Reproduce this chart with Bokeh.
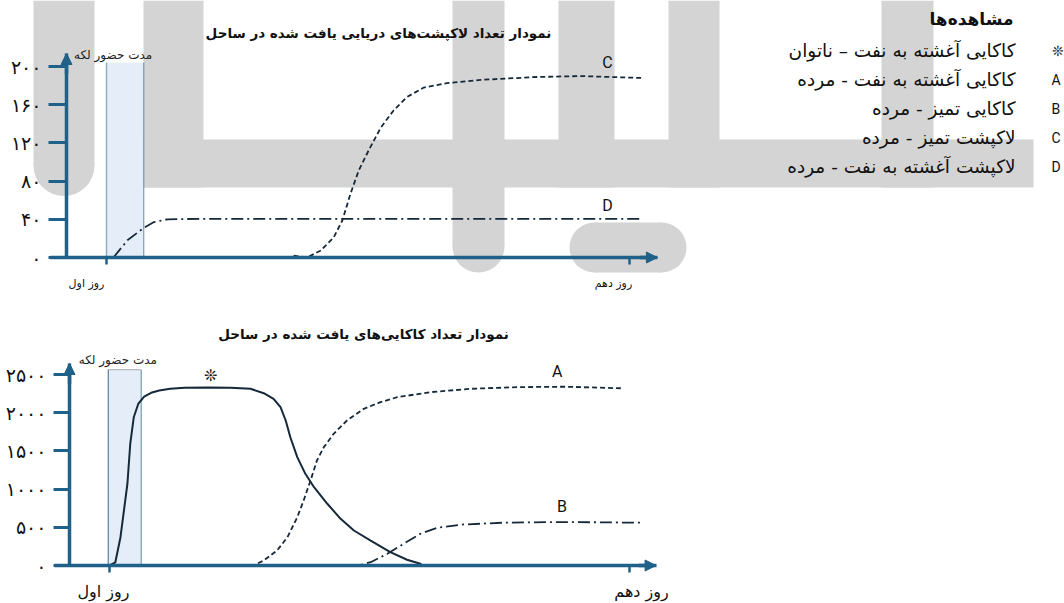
from bokeh.plotting import figure
from bokeh.models import Range1d, LinearAxis, FixedTicker, Arrow, NormalHead
from bokeh.core.properties import value
from bokeh.embed import file_html
from bokeh.resources import INLINE

# ---------------- data ----------------
turtle_title = "نمودار تعداد لاکپشت‌های دریایی یافت شده در ساحل"
gull_title = "نمودار تعداد کاکایی‌های یافت شده در ساحل"
slick_label = "مدت حضور لکه"

day_ticks = [1, 10]
day_labels = ["روز اول", "روز دهم"]

turtle_ticks = [0, 40, 80, 120, 160, 200]
turtle_tick_labels = ["۰", "۴۰", "۸۰", "۱۲۰", "۱۶۰", "۲۰۰"]
gull_ticks = [0, 500, 1000, 1500, 2000, 2500]
gull_tick_labels = ["۰", "۵۰۰", "۱۰۰۰", "۱۵۰۰", "۲۰۰۰", "۲۵۰۰"]

turtle_slick_days = [1.0, 1.64]
turtle_slick_top = 204
gull_slick_days = [0.98, 1.55]
gull_slick_top = 2565

# turtles
C_day = [4.22, 4.45, 4.68, 4.91, 5.06, 5.20, 5.34, 5.51, 5.72, 5.94, 6.17, 6.46, 6.86,
         7.44, 8.4, 9.16, 10.2]
C_count = [2, 0, 7, 21, 39, 67, 91, 112, 136, 154, 168, 178, 182.5, 186, 189, 190, 188]
D_day = [1.12, 1.36, 1.64, 1.81, 2.05, 2.6, 4.0, 6.0, 8.0, 10.2]
D_count = [0, 18, 31, 37, 40, 40.5, 40.5, 40.5, 40.5, 40.5]

# gulls
S_day = [1.0, 1.1, 1.19, 1.31, 1.36, 1.42, 1.5, 1.6, 1.72, 1.86, 2.05, 2.3, 2.7, 3.09, 3.44,
         3.67, 3.84, 3.96, 4.05, 4.13, 4.25, 4.39, 4.54, 4.77, 5.0, 5.23, 5.52, 5.86, 6.15,
         6.38, 6.42]
S_count = [0, 40, 370, 1070, 1600, 1940, 2120, 2210, 2260, 2290, 2312, 2325, 2330, 2326,
           2313, 2255, 2182, 2072, 1898, 1679, 1418, 1200, 1025, 808, 611, 458, 327, 174,
           75, 22, 0]
A_day = [3.30, 3.50, 3.67, 3.90, 4.08, 4.25, 4.36, 4.48, 4.59, 4.71, 4.88, 5.11, 5.40,
         5.69, 5.98, 6.56, 7.25, 8.1, 8.9, 9.85]
A_count = [0, 5, 65, 196, 370, 632, 851, 1113, 1374, 1549, 1724, 1898, 2051, 2138, 2203,
           2269, 2313, 2335, 2340, 2320]
B_day = [5.08, 5.31, 5.52, 5.81, 6.09, 6.38, 6.67, 7.13, 7.8, 8.6, 9.4, 10.2]
B_count = [0, 0, 43, 153, 284, 415, 493, 537, 560, 568, 566, 560]

legend_title = "مشاهده‌ها"
legend_keys = ["❊", "A", "B", "C", "D"]
legend_texts = [
    "کاکایی آغشته به نفت – ناتوان",
    "کاکایی آغشته به نفت - مرده",
    "کاکایی تمیز - مرده",
    "لاکپشت تمیز - مرده",
    "لاکپشت آغشته به نفت - مرده",
]

# ---------------- style / layout ----------------
W, H = 1064, 603
OFF = 0  # canvas coords == reference pixel coords
AX = "#1f6189"
INK = "#15293a"
GRAY = "#d4d4d4"
BAND = "#e5eef8"
FONT = "DejaVu Sans"
FA = value(FONT)


def lin_range(v0, p0, v1, p1, lo, hi):
    s = (v1 - v0) / (p1 - p0)
    return Range1d(v0 + (lo - p0) * s, v0 + (hi - p0) * s)


p = figure(width=W, height=H, x_range=Range1d(OFF, OFF + W), y_range=Range1d(OFF + H, OFF),
           toolbar_location=None, output_backend="svg", x_axis_location=None,
           y_axis_location=None, min_border=0, outline_line_color=None)
p.grid.visible = False

# chart scales (data -> pixel), built from tick anchor positions
p.extra_x_ranges = {
    "tx": lin_range(1, 106, 10, 629, OFF, OFF + W),
    "gx": lin_range(1, 109, 10, 629, OFF, OFF + W),
}
p.extra_y_ranges = {
    "ty": lin_range(0, 257, 200, 66, OFF + H, OFF),
    "gy": lin_range(0, 565, 2500, 374, OFF + H, OFF),
}

# ---------------- background logo (decoration, canvas coords) ----------------
bars_l = [33, 143, 452, 558, 668, 881, 143]
bars_r = [94, 203, 504, 614, 719, 933, 1033]
bars_t = [0, 0, 0, 0, 0, 0, 139]
bars_b = [165, 187, 246, 187, 187, 187, 187]
p.quad(left=bars_l, right=bars_r, top=bars_t, bottom=bars_b, fill_color=GRAY, line_color=None)
p.quad(left=[594], right=[661], top=[222], bottom=[272], fill_color=GRAY, line_color=None)
p.circle(x=[63.5, 478, 594, 661], y=[165, 246, 247, 247], radius=[30.5, 26, 25, 25],
         fill_color=GRAY, line_color=None)


def chart(xr, yr, ticks, tick_labels, slick_days, slick_top, axis_day, y_tip, x_lo, x_tip,
          tick_out, lbl_size, day_lbl_size, day_lbl_dx, title, title_xy, slick_lbl_dx,
          slick_lbl_dy, edge):
    # slick band
    p.quad(left=[slick_days[0]], right=[slick_days[1]], bottom=[0], top=[slick_top],
           fill_color=BAND, line_color=None, x_range_name=xr, y_range_name=yr)
    if edge:
        p.line(x=[slick_days[0], slick_days[0], slick_days[1]], y=[0, slick_top, slick_top],
               line_color="#b8bcc0", line_width=1.2, x_range_name=xr, y_range_name=yr)
    for d in slick_days:
        p.line(x=[d, d], y=[0, slick_top], line_color=AX, line_width=1.4, line_dash="1 1",
               x_range_name=xr, y_range_name=yr)
    p.text(x=[sum(slick_days) / 2], y=[slick_top], text=[slick_label], text_font=FA,
           text_font_size="12px", text_align="center", text_baseline="bottom",
           x_offset=slick_lbl_dx, y_offset=slick_lbl_dy, text_color="#222222",
           x_range_name=xr, y_range_name=yr)

    # y axis
    yax = LinearAxis(x_range_name=xr, y_range_name=yr, fixed_location=axis_day,
                     ticker=FixedTicker(ticks=ticks),
                     major_label_overrides={t: l for t, l in zip(ticks, tick_labels)},
                     bounds=(0, y_tip), axis_line_color=AX, axis_line_width=3.5,
                     major_tick_line_color=AX, major_tick_line_width=3,
                     major_tick_out=tick_out, major_tick_in=0, minor_tick_line_color=None,
                     major_label_standoff=7, major_label_text_font=FONT,
                     major_label_text_font_size=lbl_size, major_label_text_color="#111111")
    p.add_layout(yax, "left")
    # x axis (tick marks on the axis, labels drawn RTL-aligned below)
    xax = LinearAxis(x_range_name=xr, y_range_name=yr, fixed_location=0,
                     ticker=FixedTicker(ticks=day_ticks), bounds=(x_lo, x_tip),
                     axis_line_color=AX, axis_line_width=3.5, major_tick_line_color=AX,
                     major_tick_line_width=2.5, major_tick_out=7, major_tick_in=0,
                     minor_tick_line_color=None,
                     major_label_overrides={t: "" for t in day_ticks})
    p.add_layout(xax, "below")
    p.text(x=day_ticks, y=[0, 0], text=day_labels, text_font=FA, text_font_size=day_lbl_size,
           text_align="center", text_baseline="middle", x_offset=day_lbl_dx, y_offset=26,
           text_color="#111111", x_range_name=xr, y_range_name=yr)
    # arrow heads
    p.add_layout(Arrow(end=NormalHead(size=11, fill_color=AX, line_color=AX, line_width=1),
                       x_start=axis_day, y_start=y_tip * 0.9, x_end=axis_day, y_end=y_tip,
                       line_color=AX, line_width=3.5, x_range_name=xr, y_range_name=yr))
    p.add_layout(Arrow(end=NormalHead(size=11, fill_color=AX, line_color=AX, line_width=1),
                       x_start=x_tip - 0.3, y_start=0, x_end=x_tip, y_end=0,
                       line_color=AX, line_width=3.5, x_range_name=xr, y_range_name=yr))
    p.text(x=[title_xy[0]], y=[title_xy[1]], text=[title], text_font=FA,
           text_font_size="13.5px", text_font_style="bold", text_align="center",
           text_baseline="middle", text_color="#111111")


chart("tx", "ty", turtle_ticks, turtle_tick_labels, turtle_slick_days, turtle_slick_top,
      0.312, 213.6, 0.036, 10.48, 18, "19px", "11px", [-20, -16], turtle_title, (378, 32),
      -12, -1, False)
chart("gx", "gy", gull_ticks, gull_tick_labels, gull_slick_days, gull_slick_top,
      0.308, 2644, 0.048, 10.46, 16, "19px", "16px", [-6, 12], gull_title, (363, 333),
      -7, -3, True)

# curves
p.line(C_day, C_count, line_color=INK, line_width=1.8, line_dash="5 3",
       x_range_name="tx", y_range_name="ty")
p.line(D_day, D_count, line_color=INK, line_width=1.8, line_dash="12 4 2 4",
       x_range_name="tx", y_range_name="ty")
p.line(S_day, S_count, line_color=INK, line_width=2, x_range_name="gx", y_range_name="gy")
p.line(A_day, A_count, line_color=INK, line_width=1.8, line_dash="5 3",
       x_range_name="gx", y_range_name="gy")
p.line(B_day, B_count, line_color=INK, line_width=1.8, line_dash="12 4 2 4",
       x_range_name="gx", y_range_name="gy")

# curve labels
LAB = value("Roboto")
p.text(x=[9.62, 9.62], y=[204, 54], text=["C", "D"], text_font=LAB, text_font_size="16px",
       text_align="center", text_baseline="middle", text_color="#111111",
       x_range_name="tx", y_range_name="ty")
p.text(x=[8.75, 8.83, 2.75], y=[2540, 772, 2487], text=["A", "B", "❊"], text_font=LAB,
       text_font_size="16px", text_align="center", text_baseline="middle", text_color="#111111",
       x_range_name="gx", y_range_name="gy")

# legend
p.text(x=[1013], y=[18], text=[legend_title], text_font=FA, text_font_size="17px",
       text_font_style="bold", text_align="right", text_baseline="middle", text_color="#111111")
ly = [50 + 29 * i for i in range(len(legend_texts))]
p.text(x=[1015] * len(legend_texts), y=ly, text=legend_texts, text_font=FA,
       text_font_size="18.5px", text_align="right", text_baseline="middle", text_color="#111111")
p.text(x=[1051] * len(legend_keys), y=ly, text=legend_keys, text_font=LAB,
       text_font_size="14px", text_align="left", text_baseline="middle", text_color="#111111")

open("out.html", "w").write(file_html(p, INLINE))
